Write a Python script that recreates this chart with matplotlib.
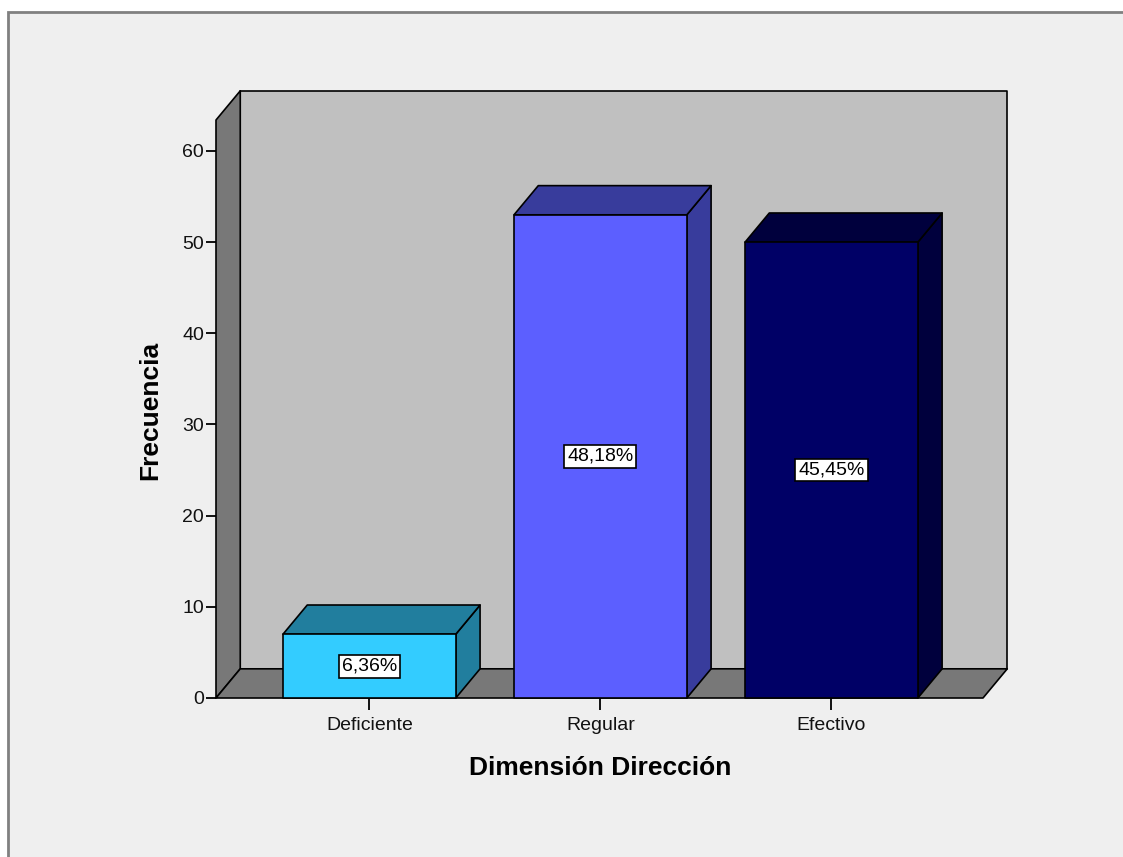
import matplotlib
matplotlib.use("Agg")
import matplotlib.pyplot as plt
from matplotlib.patches import Polygon, Rectangle

plt.rcParams['font.family'] = ['Liberation Sans', 'DejaVu Sans']

categories = ['Deficiente', 'Regular', 'Efectivo']
counts = [7, 53, 50]
pct_labels = ['6,36%', '48,18%', '45,45%']
yticks = [0, 10, 20, 30, 40, 50, 60]

front_colors = ['#33ccff', '#5c5fff', '#000066']
shade_colors = ['#217e9e', '#383c9c', '#00003d']

W, H = 1123, 857
fig = plt.figure(figsize=(W / 100, H / 100), dpi=100, facecolor='white')

# outer panel like the SPSS viewer frame (kept behind the axes)
fig.patches.append(Rectangle((8 / W, -0.05), 1.1, 1 - 12 / H + 0.05, transform=fig.transFigure,
                             facecolor='#efefef', edgecolor='#808080', linewidth=2, zorder=-10))

# front plane of the 3D box
x_left, x_right = -0.664, 2.656
y_top = 63.4
dx, dy = 0.105, 3.2
bar_w = 0.748

ax = fig.add_axes([216 / W, (H - 698) / H, (983 - 216) / W, (698 - 120) / H])
ax.set_zorder(5)
ax.set_xlim(x_left, x_right)
ax.set_ylim(0, y_top)
ax.patch.set_visible(False)
for s in ax.spines.values():
    s.set_visible(False)

edge = dict(edgecolor='black', linewidth=1.2, clip_on=False, joinstyle='round')

# back wall, left wall, floor
ax.add_patch(Polygon([(x_left + dx, dy), (x_right + dx, dy), (x_right + dx, y_top + dy),
                      (x_left + dx, y_top + dy)], facecolor='#c0c0c0', **edge))
ax.add_patch(Polygon([(x_left, 0), (x_left, y_top), (x_left + dx, y_top + dy),
                      (x_left + dx, dy)], facecolor='#787878', **edge))
ax.add_patch(Polygon([(x_left, 0), (x_right, 0), (x_right + dx, dy),
                      (x_left + dx, dy)], facecolor='#787878', **edge))

for i, (v, lab) in enumerate(zip(counts, pct_labels)):
    l, r = i - bar_w / 2, i + bar_w / 2
    ax.add_patch(Polygon([(r, 0), (r, v), (r + dx, v + dy), (r + dx, dy)],
                         facecolor=shade_colors[i], **edge))
    ax.add_patch(Polygon([(l, v), (r, v), (r + dx, v + dy), (l + dx, v + dy)],
                         facecolor=shade_colors[i], **edge))
    ax.add_patch(Rectangle((l, 0), bar_w, v, facecolor=front_colors[i], **edge))
    ax.text(i, v / 2, lab, ha='center', va='center', fontsize=14, color='black',
            bbox=dict(boxstyle='square,pad=0.15', facecolor='white', edgecolor='black', linewidth=1.2))

ax.set_yticks(yticks)
ax.set_yticklabels([str(t) for t in yticks])
ax.set_xticks(range(len(categories)))
ax.set_xticklabels(categories)
ax.tick_params(axis='y', direction='out', length=7.5, width=1.3, pad=1, labelsize=14, colors='black')
ax.tick_params(axis='x', direction='out', length=8.5, width=1.3, pad=5, labelsize=14, colors='black')
for t in ax.get_yticklabels() + ax.get_xticklabels():
    t.set_color('#111111')

fig.text(600 / W, 1 - 768 / H, 'Dimensión Dirección', ha='center', va='center',
         fontsize=19, fontweight='bold')
fig.text(150 / W, 1 - 410 / H, 'Frecuencia', ha='center', va='center', rotation=90,
         fontsize=19, fontweight='bold')

fig.savefig('out.png', dpi=100, facecolor='white')
